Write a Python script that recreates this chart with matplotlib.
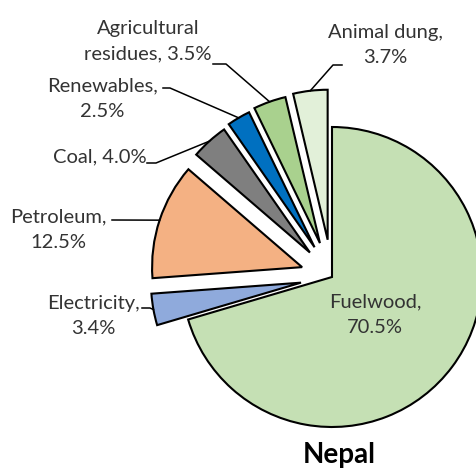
import numpy as np
import matplotlib.pyplot as plt

# Nepal energy mix (percent)
labels = ['Fuelwood', 'Electricity', 'Petroleum', 'Coal', 'Renewables',
          'Agricultural residues', 'Animal dung']
shares = [70.5, 3.4, 12.5, 4.0, 2.5, 3.5, 3.7]
colors = ['#C5E0B4', '#8FAADC', '#F4B183', '#7F7F7F', '#0070C0', '#A9D18E', '#E2F0D9']
explode = [0, 0.21, 0.21, 0.22, 0.23, 0.24, 0.25]

plt.rcParams['font.family'] = ['Lato', 'DejaVu Sans']
txt_color = '#333333'

fig = plt.figure(figsize=(4.77, 4.69), dpi=100)
ax = fig.add_axes([0, 0, 1, 1])

wedges, _ = ax.pie(shares, colors=colors, explode=explode, startangle=90,
                   counterclock=False, radius=1,
                   wedgeprops=dict(edgecolor='black', linewidth=1.5))

# pixel -> data helper (pie centre at pixel 332,277, radius 150 px)
def px(x, y):
    return ((x - 332) / 150.0, (277 - y) / 150.0)

ax.set_xlim(px(0, 0)[0], px(477, 0)[0])
ax.set_ylim(px(0, 469)[1], px(0, 0)[1])
ax.set_aspect('auto')
ax.axis('off')

def arc_point(w):
    mid = np.deg2rad((w.theta1 + w.theta2) / 2)
    cx, cy = w.center
    return cx + w.r * np.cos(mid), cy + w.r * np.sin(mid)

# label text: centre, leader start, leader elbow (pixels)
label_text = {
    1: ('Electricity,\n3.4%', (93, 316), (142, 308), (150, 308)),
    2: ('Petroleum,\n12.5%', (58, 230), (112, 220), (112, 220)),
    3: ('Coal, 4.0%', (100, 157), (147, 163), (156, 163)),
    4: ('Renewables,\n2.5%', (102, 99), (163, 88), (170, 88)),
    5: ('Agricultural\nresidues, 3.5%', (148, 41), (213, 64), (226, 64)),
    6: ('Animal dung,\n3.7%', (385, 45), (342, 65), (333, 65)),
}

for i, (t, pos, start, elbow) in label_text.items():
    ax.text(*px(*pos), t, ha='center', va='center', fontsize=14.5,
            color=txt_color, linespacing=1.6)
    ex, ey = arc_point(wedges[i])
    xs = [px(*start)[0], px(*elbow)[0], ex]
    ys = [px(*start)[1], px(*elbow)[1], ey]
    ax.plot(xs, ys, color='black', linewidth=1.1)

ax.text(*px(375, 315), 'Fuelwood,\n70.5%', ha='center', va='center',
        fontsize=14.5, color=txt_color, linespacing=1.6)

ax.text(*px(339, 455), 'Nepal', ha='center', va='center', fontsize=20,
        fontweight='bold', color='black')

fig.savefig('out.png', dpi=100)
